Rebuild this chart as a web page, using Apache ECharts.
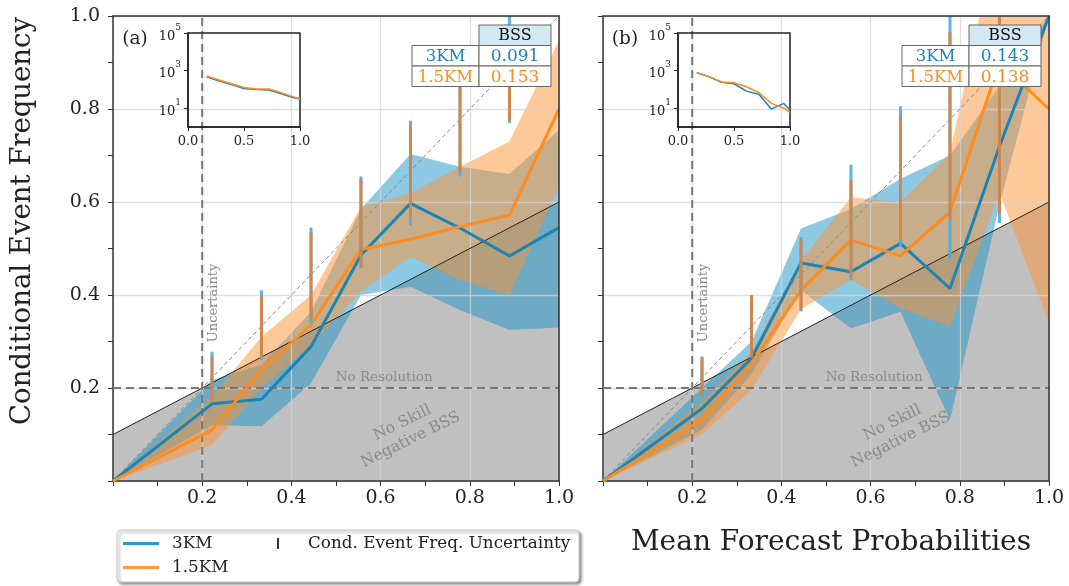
<!DOCTYPE html>
<html><head><meta charset="utf-8">
<script src="https://cdn.jsdelivr.net/npm/echarts@6/dist/echarts.min.js"></script>
<style>html,body{margin:0;padding:0;background:#fff}#c{width:1069px;height:586px}</style>
</head><body><div id="c"></div>
<script>
const FONT = '"DejaVu Serif", "Liberation Serif", serif';
const BLUE = '#1a84b6';
const ORANGE = '#ff8c1e';

// ---- data ----
const probBins = [0, 0.222, 0.333, 0.444, 0.556, 0.667, 0.778, 0.889, 1.0];
const barBins = [0.222, 0.333, 0.444, 0.556, 0.667, 0.778, 0.889];

// panel (a)
const a3kmFreq  = [0, 0.166, 0.176, 0.289, 0.486, 0.597, 0.544, 0.484, 0.545];
const a15kmFreq = [0, 0.110, 0.239, 0.336, 0.498, 0.520, 0.547, 0.572, 0.800];
const a3kmLo    = [0, 0.120, 0.118, 0.210, 0.400, 0.418, 0.368, 0.325, 0.330];
const a3kmHi    = [0, 0.217, 0.250, 0.364, 0.585, 0.703, 0.676, 0.660, 0.755];
const a15kmLo   = [0, 0.077, 0.200, 0.292, 0.407, 0.482, 0.432, 0.400, 0.633];
const a15kmHi   = [0, 0.181, 0.310, 0.400, 0.590, 0.619, 0.676, 0.730, 0.948];
const aBar3kmLo  = [0.170, 0.260, 0.340, 0.457, 0.550, 0.655, 0.770];
const aBar3kmHi  = [0.278, 0.410, 0.545, 0.655, 0.775, 0.900, 1.000];
const aBar15kmLo = [0.172, 0.265, 0.350, 0.460, 0.565, 0.665, 0.775];
const aBar15kmHi = [0.268, 0.400, 0.535, 0.650, 0.765, 0.900, 0.980];

// panel (b)
const b3kmFreq  = [0, 0.156, 0.264, 0.469, 0.450, 0.511, 0.414, 0.720, 1.000];
const b15kmFreq = [0, 0.131, 0.253, 0.410, 0.518, 0.484, 0.579, 0.900, 0.800];
const b3kmLo    = [0, 0.110, 0.230, 0.410, 0.328, 0.364, 0.131, 0.594, 1.000];
const b3kmHi    = [0, 0.200, 0.300, 0.543, 0.585, 0.650, 0.700, 0.850, 1.000];
const b15kmLo   = [0, 0.100, 0.196, 0.370, 0.432, 0.372, 0.332, 0.620, 0.340];
const b15kmHi   = [0, 0.170, 0.278, 0.475, 0.610, 0.600, 0.705, 1.200, 1.200];
const bBar3kmLo  = [0.180, 0.265, 0.365, 0.432, 0.504, 0.475, 0.555];
const bBar3kmHi  = [0.268, 0.400, 0.525, 0.680, 0.806, 1.050, 1.200];
const bBar15kmLo = [0.182, 0.267, 0.368, 0.440, 0.520, 0.560, 0.575];
const bBar15kmHi = [0.264, 0.398, 0.520, 0.647, 0.787, 0.965, 1.200];

// insets: forecast counts (log scale)
const insetX = [0.167, 0.278, 0.389, 0.5, 0.611, 0.722, 0.833, 0.944, 1.0];
const aInset3km  = [468, 275, 182, 110, 100, 93, 59, 36, 32];
const aInset15km = [525, 316, 200, 126, 105, 105, 66, 40, 32];
const bInset3km  = [759, 468, 240, 200, 81, 55, 9, 18, 8];
const bInset15km = [794, 479, 251, 224, 138, 68, 18, 10, 6];

// reference lines
const climatology = 0.2;
const noSkillLine = [[0, 0.1], [1, 0.6]];
const perfectLine = [[0, 0], [1, 1]];
const noResLine = [[0, climatology], [1, climatology]];
const uncLine = [[climatology, 0], [climatology, 1]];

// BSS table
const modelNames = ['3KM', '1.5KM'];
const bssA = ['0.091', '0.153'];
const bssB = ['0.143', '0.138'];
const panelLabels = ['(a)', '(b)'];

const tickFmt = v => (Math.abs(v) < 1e-9 ? '' : v.toFixed(1));

function mainX(gi, showLabel) {
  return {
    gridIndex: gi, type: 'value', min: 0, max: 1, interval: 0.2, z: 3,
    axisLine: { show: true, onZero: false, lineStyle: { color: '#333', width: 1.5 } },
    axisTick: { show: true, length: 5, lineStyle: { color: '#333', width: 1 } },
    minorTick: { show: true, splitNumber: 2, length: 5, lineStyle: { color: '#333', width: 1 } },
    axisLabel: { show: showLabel, fontFamily: FONT, fontSize: 19, color: '#222', margin: 8, formatter: tickFmt },
    splitLine: { show: true, lineStyle: { color: 'rgba(212,212,212,0.75)', width: 1.3 } }
  };
}
function mainY(gi, showLabel) {
  return {
    gridIndex: gi, type: 'value', min: 0, max: 1, interval: 0.2, z: 3,
    axisLine: { show: true, onZero: false, lineStyle: { color: '#333', width: 1.5 } },
    axisTick: { show: true, length: 5, lineStyle: { color: '#333', width: 1 } },
    minorTick: { show: true, splitNumber: 2, length: 5, lineStyle: { color: '#333', width: 1 } },
    axisLabel: { show: showLabel, fontFamily: FONT, fontSize: 19, color: '#222', margin: 13, formatter: tickFmt },
    splitLine: { show: true, lineStyle: { color: 'rgba(212,212,212,0.75)', width: 1.3 } }
  };
}
function frameX(gi) {
  return { gridIndex: gi, type: 'value', min: 0, max: 1, position: 'top', z: 5,
    axisLine: { show: true, onZero: false, lineStyle: { color: '#333', width: 1.5 } },
    axisTick: { show: false }, axisLabel: { show: false }, splitLine: { show: false } };
}
function frameY(gi) {
  return { gridIndex: gi, type: 'value', min: 0, max: 1, position: 'right', z: 5,
    axisLine: { show: true, onZero: false, lineStyle: { color: '#333', width: 1.5 } },
    axisTick: { show: false }, axisLabel: { show: false }, splitLine: { show: false } };
}
function insetX_(gi) {
  return { gridIndex: gi, type: 'value', min: 0, max: 1, interval: 0.5, z: 6,
    axisLine: { show: true, onZero: false, lineStyle: { color: '#222', width: 1.5 } },
    axisTick: { show: true, length: 4, lineStyle: { color: '#222' } },
    axisLabel: { fontFamily: FONT, fontSize: 13, color: '#222', margin: 8, formatter: v => v.toFixed(1) },
    splitLine: { show: false } };
}
function insetY_(gi) {
  return { gridIndex: gi, type: 'log', logBase: 10, min: 1, max: 100000, z: 6,
    axisLine: { show: true, onZero: false, lineStyle: { color: '#222', width: 1.5 } },
    axisTick: { show: true, length: 4, customValues: [10, 1000, 100000], lineStyle: { color: '#222' } },
    axisLabel: { fontFamily: FONT, fontSize: 13, color: '#222', margin: 7,
      customValues: [10, 1000, 100000],
      formatter: v => { const e = Math.round(Math.log10(v)); return '{b|10}{s|' + e + '}'; },
      rich: {
        b: { fontFamily: FONT, fontSize: 13, color: '#222', lineHeight: 20, verticalAlign: 'bottom' },
        s: { fontFamily: FONT, fontSize: 9, color: '#222', lineHeight: 20, verticalAlign: 'top' }
      } },
    splitLine: { show: false } };
}

function bandSeries(xi, yi, lo, hi, color, z) {
  return {
    type: 'custom', xAxisIndex: xi, yAxisIndex: yi, clip: true, z: z, silent: true,
    data: [[0, 0]],
    renderItem: (params, api) => {
      const pts = [];
      for (let i = 0; i < probBins.length; i++) pts.push(api.coord([probBins[i], hi[i]]));
      for (let i = probBins.length - 1; i >= 0; i--) pts.push(api.coord([probBins[i], lo[i]]));
      return { type: 'polygon', shape: { points: pts }, style: { fill: color } };
    }
  };
}
function barSeries(xi, yi, lo, hi, color, z) {
  return {
    type: 'custom', xAxisIndex: xi, yAxisIndex: yi, clip: true, z: z, silent: true,
    data: barBins.map((x, i) => [x, lo[i], hi[i]]),
    encode: { x: 0, y: [1, 2] },
    renderItem: (params, api) => {
      const p1 = api.coord([api.value(0), api.value(1)]);
      const p2 = api.coord([api.value(0), api.value(2)]);
      return { type: 'line', shape: { x1: p1[0], y1: p1[1], x2: p2[0], y2: p2[1] },
        style: { stroke: color, lineWidth: 3 } };
    }
  };
}
function lineSeries(name, xi, yi, ys, color, z) {
  return { name, type: 'line', xAxisIndex: xi, yAxisIndex: yi, showSymbol: false, z: z, clip: true,
    data: probBins.map((x, i) => [x, ys[i]]), lineStyle: { color, width: 3 }, silent: true };
}
function refSeries(xi, yi, data, style, z) {
  return { type: 'line', xAxisIndex: xi, yAxisIndex: yi, showSymbol: false, z: z, silent: true,
    data: data, lineStyle: style };
}
function panelSeries(gi, f3, f15, lo3, hi3, lo15, hi15, bl3, bh3, bl15, bh15) {
  return [
    { type: 'line', xAxisIndex: gi, yAxisIndex: gi, showSymbol: false, z: 1, silent: true,
      data: noSkillLine, lineStyle: { width: 0, opacity: 0 },
      areaStyle: { color: '#c0c0c0', opacity: 1 } },
    bandSeries(gi, gi, lo3, hi3, 'rgba(30,148,200,0.5)', 2),
    bandSeries(gi, gi, lo15, hi15, 'rgba(255,145,50,0.5)', 2.1),
    refSeries(gi, gi, noSkillLine, { color: '#222', width: 1 }, 3.5),
    refSeries(gi, gi, perfectLine, { color: '#888', width: 1, type: [4, 3] }, 3.5),
    refSeries(gi, gi, noResLine, { color: '#777', width: 2, type: [8, 5] }, 3.5),
    refSeries(gi, gi, uncLine, { color: '#777', width: 2, type: [8, 5] }, 3.5),
    lineSeries('3KM', gi, gi, f3, BLUE, 4),
    lineSeries('1.5KM', gi, gi, f15, ORANGE, 4.1),
    barSeries(gi, gi, bl3, bh3, 'rgba(70,175,225,0.9)', 4.5),
    barSeries(gi, gi, bl15, bh15, 'rgba(220,130,60,0.9)', 4.6)
  ];
}
function insetSeries(ai, c3, c15) {
  return [
    { type: 'line', xAxisIndex: ai, yAxisIndex: ai, showSymbol: false, z: 7, silent: true,
      data: insetX.map((x, i) => [x, c3[i]]), lineStyle: { color: BLUE, width: 1.5 } },
    { type: 'line', xAxisIndex: ai, yAxisIndex: ai, showSymbol: false, z: 7.1, silent: true,
      data: insetX.map((x, i) => [x, c15[i]]), lineStyle: { color: ORANGE, width: 1.5 } }
  ];
}

const chart = echarts.init(document.getElementById('c'), null, { renderer: 'canvas' });
chart.setOption({
  animation: false,
  backgroundColor: '#fff',
  textStyle: { fontFamily: FONT },
  grid: [
    { left: 113, top: 16, width: 446, height: 465 },
    { left: 603, top: 16, width: 446, height: 465 },
    { left: 188, top: 33, width: 112, height: 94, show: true, borderColor: '#222', borderWidth: 1.5, backgroundColor: 'transparent', z: 6 },
    { left: 678, top: 33, width: 112, height: 94, show: true, borderColor: '#222', borderWidth: 1.5, backgroundColor: 'transparent', z: 6 },
    { left: 113, top: 16, width: 446, height: 465 },
    { left: 603, top: 16, width: 446, height: 465 }
  ],
  xAxis: [mainX(0, true), mainX(1, true), insetX_(2), insetX_(3), frameX(4), frameX(5)],
  yAxis: [mainY(0, true), mainY(1, false), insetY_(2), insetY_(3), frameY(4), frameY(5)],
  series: [
    ...panelSeries(0, a3kmFreq, a15kmFreq, a3kmLo, a3kmHi, a15kmLo, a15kmHi, aBar3kmLo, aBar3kmHi, aBar15kmLo, aBar15kmHi),
    ...panelSeries(1, b3kmFreq, b15kmFreq, b3kmLo, b3kmHi, b15kmLo, b15kmHi, bBar3kmLo, bBar3kmHi, bBar15kmLo, bBar15kmHi),
    ...insetSeries(2, aInset3km, aInset15km),
    ...insetSeries(3, bInset3km, bInset15km)
  ]
});

// ---- annotations ----
const G = [];
const GREY = '#8a8a8a';
const ang = Math.atan(0.5 * 465 / 446) * 0.95;
function txt(x, y, text, size, color, opts, align) {
  return Object.assign({ type: 'text', x: x, y: y, z: 50,
    style: { text: text, x: 0, y: 0, font: size + 'px ' + FONT, fill: color, align: align || 'center', verticalAlign: 'middle' } }, opts || {});
}
[0, 1].forEach(gi => {
  const pUnc = chart.convertToPixel({ gridIndex: gi }, [climatology, 0.383]);
  G.push(txt(pUnc[0] + 11, pUnc[1], 'Uncertainty', 13, GREY, { rotation: Math.PI / 2 }));
  const pNr = chart.convertToPixel({ gridIndex: gi }, [0.608, 0.223]);
  G.push(txt(pNr[0], pNr[1], 'No Resolution', 13.5, GREY));
  const pNs = chart.convertToPixel({ gridIndex: gi }, [0.658, 0.107]);
  const t = txt(pNs[0], pNs[1], 'No Skill\nNegative BSS', 15.5, GREY, { rotation: ang });
  t.style.lineHeight = 19;
  G.push(t);
  const p0 = chart.convertToPixel({ gridIndex: gi }, [0, 1]);
  G.push(txt(p0[0] + 22, p0[1] + 23, panelLabels[gi], 18.5, '#222'));

  // BSS table
  const tx = p0[0] + 299, ty = p0[1] + 9;
  const c1 = 67, c2 = 72, rh = 20.5;
  const bss = gi === 0 ? bssA : bssB;
  const stroke = '#666';
  G.push({ type: 'rect', z: 60, shape: { x: tx + c1, y: ty, width: c2, height: rh }, style: { fill: '#d4e8f3', stroke: stroke, lineWidth: 1 } });
  G.push(txt(tx + c1 + c2 / 2, ty + rh / 2 + 1, 'BSS', 16, '#111', { z: 61 }));
  modelNames.forEach((m, r) => {
    const y0 = ty + rh * (r + 1);
    const col = r === 0 ? BLUE : ORANGE;
    G.push({ type: 'rect', z: 60, shape: { x: tx, y: y0, width: c1, height: rh }, style: { fill: '#fff', stroke: stroke, lineWidth: 1 } });
    G.push({ type: 'rect', z: 60, shape: { x: tx + c1, y: y0, width: c2, height: rh }, style: { fill: '#fff', stroke: stroke, lineWidth: 1 } });
    G.push(txt(tx + c1 / 2, y0 + rh / 2 + 1, m, 16.5, col, { z: 61 }));
    G.push(txt(tx + c1 + c2 / 2, y0 + rh / 2 + 1, bss[r], 17, col, { z: 61 }));
  });
});

// axis titles
G.push(txt(23, 221, 'Conditional Event Frequency', 27.5, '#222', { rotation: Math.PI / 2 }));
G.push(txt(831, 543, 'Mean Forecast Probabilities', 28, '#222'));

// legend
G.push({ type: 'rect', z: 70, shape: { x: 117, y: 530, width: 462, height: 52, r: 4 },
  style: { fill: '#fff', stroke: '#ccc', lineWidth: 1, shadowBlur: 3, shadowOffsetX: 2, shadowOffsetY: 2, shadowColor: 'rgba(0,0,0,0.45)' } });
G.push({ type: 'line', z: 71, shape: { x1: 123, y1: 543.5, x2: 159, y2: 543.5 }, style: { stroke: '#2a98d0', lineWidth: 3 } });
G.push({ type: 'line', z: 71, shape: { x1: 123, y1: 567.5, x2: 159, y2: 567.5 }, style: { stroke: '#ff9a3c', lineWidth: 3 } });
G.push(txt(172, 544, '3KM', 16.8, '#222', { z: 71 }, 'left'));
G.push(txt(172, 568, '1.5KM', 16.8, '#222', { z: 71 }, 'left'));
G.push({ type: 'line', z: 71, shape: { x1: 278, y1: 538, x2: 278, y2: 549 }, style: { stroke: '#333', lineWidth: 2 } });
G.push(txt(308, 544, 'Cond. Event Freq. Uncertainty', 16.8, '#222', { z: 71 }, 'left'));

chart.setOption({ graphic: G });
</script></body></html>
